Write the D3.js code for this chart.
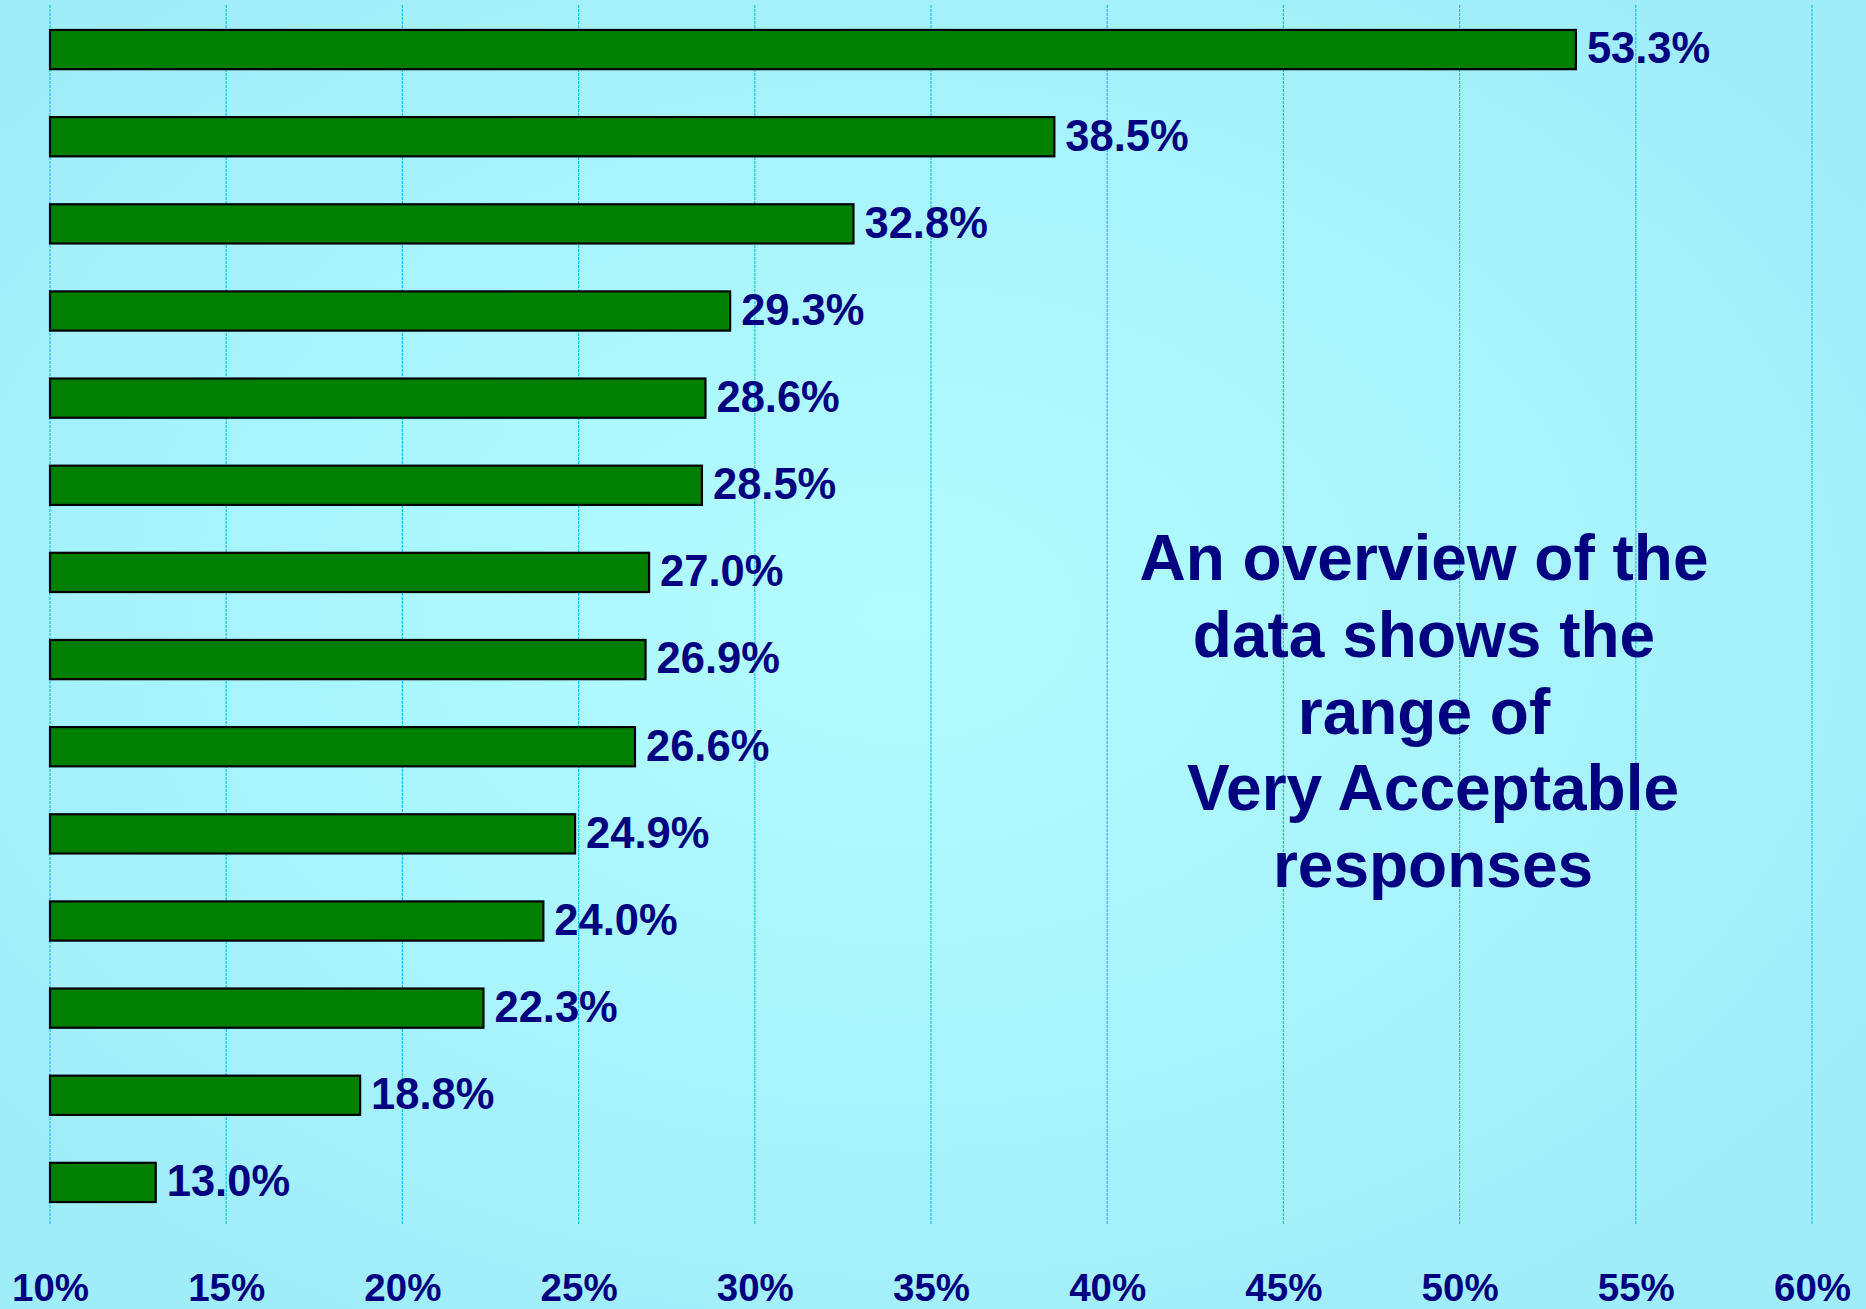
<!DOCTYPE html>
<html>
<head>
<meta charset="utf-8">
<script src="https://cdn.jsdelivr.net/npm/d3@7"></script>
<style>
  html, body { margin: 0; padding: 0; background: #A4F0FA; }
  svg { display: block; }
  text { font-family: "Liberation Sans", Arial, Helvetica, sans-serif; font-weight: bold; }
</style>
</head>
<body>
<svg id="chart" width="1866" height="1309"></svg>
<script>
// ---- data ----
const categories = ["Item 1","Item 2","Item 3","Item 4","Item 5","Item 6","Item 7",
                    "Item 8","Item 9","Item 10","Item 11","Item 12","Item 13","Item 14"];
const values = [53.3, 38.5, 32.8, 29.3, 28.6, 28.5, 27.0, 26.9, 26.6, 24.9, 24.0, 22.3, 18.8, 13.0];
const tickValues = [10, 15, 20, 25, 30, 35, 40, 45, 50, 55, 60];
const tickLabels = ["10%","15%","20%","25%","30%","35%","40%","45%","50%","55%","60%"];
const noteLines = ["An overview of the", "data shows the", "range of", "Very Acceptable", "responses"];

// ---- layout ----
const W = 1866, H = 1309;
const svg = d3.select("#chart");

const defs = svg.append("defs");
const grad = defs.append("radialGradient")
  .attr("id", "bg").attr("cx", "0.48").attr("cy", "0.47").attr("r", "0.62");
grad.append("stop").attr("offset", "0%").attr("stop-color", "#B3FDFF");
grad.append("stop").attr("offset", "100%").attr("stop-color", "#A0EDFA");
svg.append("rect").attr("width", W).attr("height", H).attr("fill", "url(#bg)");

const x = d3.scaleLinear().domain([10, 60]).range([50, 1812]);
const y = d3.scaleBand().domain(categories).range([6, 1226]).paddingInner(0.55).paddingOuter(0.275);

// gridlines
svg.append("g").selectAll("line").data(tickValues).join("line")
  .attr("x1", d => x(d)).attr("x2", d => x(d))
  .attr("y1", 5).attr("y2", 1225)
  .attr("stroke", "#14C4F0").attr("stroke-width", 1.2)
  .attr("stroke-dasharray", "3,1");

// bars
svg.append("g").selectAll("rect").data(values).join("rect")
  .attr("x", x(10))
  .attr("y", (d, i) => y(categories[i]))
  .attr("width", d => x(d) - x(10))
  .attr("height", y.bandwidth())
  .attr("fill", "#007F00")
  .attr("stroke", "#000").attr("stroke-width", 2.2);

// value labels
svg.append("g").selectAll("text").data(values).join("text")
  .attr("x", d => x(d) + 11)
  .attr("y", (d, i) => y(categories[i]) + y.bandwidth() / 2)
  .attr("dy", "0.32em")
  .attr("font-size", 43.5)
  .attr("fill", "#000080")
  .text(d => d.toFixed(1) + "%");

// x axis labels
const axis = d3.axisBottom(x).tickValues(tickValues)
  .tickFormat((d, i) => tickLabels[i]).tickSize(0).tickPadding(0);
const ag = svg.append("g").attr("transform", "translate(0,1301)").call(axis);
ag.select(".domain").remove();
ag.selectAll("text")
  .attr("y", 0).attr("dy", 0)
  .attr("font-size", 38.5)
  .attr("font-family", "Liberation Sans, Arial, sans-serif")
  .attr("font-weight", "bold")
  .attr("fill", "#000080");

// annotation
const noteDx = [0, 0, 0, 9, 9];
svg.append("g").selectAll("text").data(noteLines).join("text")
  .attr("x", (d, i) => 1424 + noteDx[i])
  .attr("y", (d, i) => 580 + i * 76.8)
  .attr("text-anchor", "middle")
  .attr("font-size", 64)
  .attr("fill", "#000080")
  .text(d => d);
</script>
</body>
</html>
